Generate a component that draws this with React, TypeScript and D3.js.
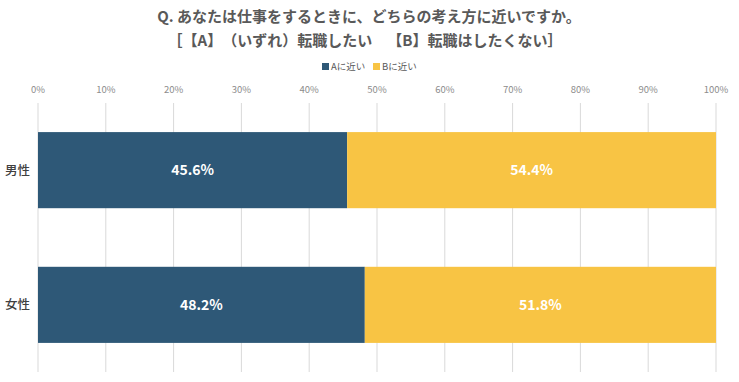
import React from "react";
import * as d3 from "d3";

const categories = ["男性", "女性"];
const seriesNames = ["Aに近い", "Bに近い"];
const valuesA = [45.6, 48.2];
const valuesB = [54.4, 51.8];
const xTicks = [0, 10, 20, 30, 40, 50, 60, 70, 80, 90, 100];
const colors = ["#2E5877", "#F8C444"];
const titleLines = [
  "Q. あなたは仕事をするときに、どちらの考え方に近いですか。",
  "［【A】（いずれ）転職したい　【B】転職はしたくない］",
];

export default function App() {
  const W = 739, H = 382;
  const x = d3.scaleLinear().domain([0, 100]).range([38, 716]);
  const y = d3.scaleBand<string>().domain(categories).range([103, 372]).paddingInner(0.435).paddingOuter(0.216);
  const font = "'Noto Sans CJK JP', 'Noto Sans', sans-serif";
  const stack = categories.map((c, i) => [
    { s: 0, x0: 0, x1: valuesA[i], v: valuesA[i] },
    { s: 1, x0: valuesA[i], x1: valuesA[i] + valuesB[i], v: valuesB[i] },
  ]);
  const trim: any = { textSpacingTrim: "space-all" };
  return (
    <svg width={W} height={H} style={{ position: "absolute", left: 0, top: 0, background: "#fff" }} fontFamily={font}>
      <text x={369} y={22} textAnchor="middle" fontSize={15} fontWeight="bold" fill="#595959" style={trim}>{titleLines[0]}</text>
      <text x={365} y={46} textAnchor="middle" fontSize={15} fontWeight="bold" fill="#595959" style={trim}>{titleLines[1]}</text>
      {seriesNames.map((n, i) => (
        <g key={n} transform={`translate(${i === 0 ? 322 : 373},0)`}>
          <rect x={0} y={63} width={7} height={7} fill={colors[i]} />
          <text x={9} y={70} fontSize={9.5} fill="#595959">{n}</text>
        </g>
      ))}
      {xTicks.map((t) => (
        <g key={t}>
          <line x1={x(t)} x2={x(t)} y1={103} y2={372} stroke="#D9D9D9" strokeWidth={1} />
          <text x={x(t)} y={93} textAnchor="middle" fontSize={9.5} fill="#8C8C8C">{t}%</text>
        </g>
      ))}
      {categories.map((c, i) => (
        <g key={c}>
          <text x={30} y={(y(c) as number) + y.bandwidth() / 2 + 4.5} textAnchor="end" fontSize={12.5} fontWeight={500} fill="#404040">{c}</text>
          {stack[i].map((d) => (
            <g key={d.s}>
              <rect x={x(d.x0)} y={y(c)} width={x(d.x1) - x(d.x0)} height={y.bandwidth()} fill={colors[d.s]} />
              <text x={(x(d.x0) + x(d.x1)) / 2} y={(y(c) as number) + y.bandwidth() / 2 + 5} textAnchor="middle" fontSize={14} fontWeight="bold" fill="#fff">{d.v.toFixed(1)}%</text>
            </g>
          ))}
        </g>
      ))}
    </svg>
  );
}
